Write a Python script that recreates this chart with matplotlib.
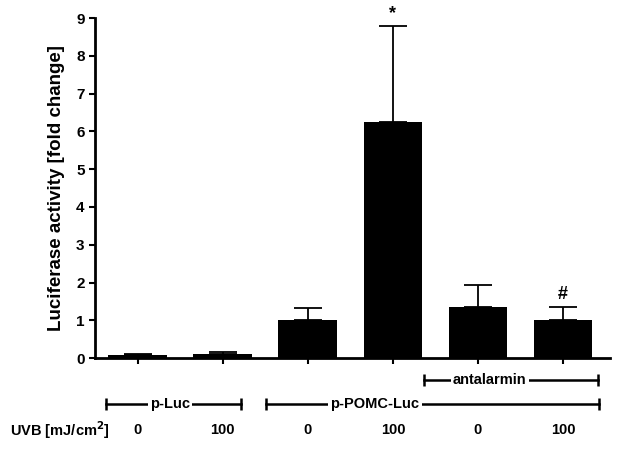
import matplotlib.pyplot as plt

plt.rcParams['font.family'] = ['Liberation Sans', 'DejaVu Sans']
plt.rcParams['font.weight'] = 'bold'

uvb = ['0', '100', '0', '100', '0', '100']
values = [0.09, 0.12, 1.0, 6.25, 1.35, 1.0]
errors = [0.03, 0.04, 0.33, 2.53, 0.58, 0.35]
marks = ['', '', '', '*', '', '#']

fig = plt.figure(figsize=(6.23, 4.5), dpi=100)
ax = fig.add_axes([0.1525, 0.204, 0.8265, 0.756])

x = list(range(len(values)))
ax.bar(x, values, width=0.69, color='black')
ax.errorbar(x, values, yerr=[[0] * len(errors), errors], fmt='none',
            ecolor='black', elinewidth=1.3, capsize=10, capthick=1.3)
for xi, v, e, m in zip(x, values, errors, marks):
    if m:
        ax.text(xi, v + e + 0.12, m, ha='center', va='bottom', fontsize=13, fontweight='bold')

ax.set_xlim(-0.5, 5.55)
ax.set_ylim(0, 9)
ax.set_yticks(range(10))
ax.set_xticks(x)
ax.set_xticklabels([])
ax.tick_params(axis='both', direction='out', width=1.5, length=4, labelsize=11)
for s in ['top', 'right']:
    ax.spines[s].set_visible(False)
for s in ['left', 'bottom']:
    ax.spines[s].set_linewidth(2)
ax.set_ylabel('Luciferase activity [fold change]', fontsize=13.5, fontweight='bold', labelpad=8)


def bracket(x0, x1, y, label, xt):
    ax.plot([x0, x1], [y, y], color='black', lw=1.8, clip_on=False,
            marker='|', markersize=8, markeredgewidth=1.8)
    ax.text(xt, y, label, ha='center', va='center',
            fontsize=10.5, fontweight='bold',
            bbox=dict(facecolor='white', edgecolor='none', pad=1.5), clip_on=False)


bracket(3.36, 5.41, -0.58, 'antalarmin', 4.14)
bracket(-0.376, 1.22, -1.22, 'p-Luc', 0.38)
bracket(1.51, 5.42, -1.22, 'p-POMC-Luc', 2.79)

ax.text(-1.5, -1.9, 'UVB [mJ/cm$^\\mathbf{2}$]', ha='left', va='center', fontsize=10.5,
        fontweight='bold', clip_on=False)
for xi, lab in zip(x, uvb):
    ax.text(xi, -1.9, lab, ha='center', va='center', fontsize=10.5, fontweight='bold', clip_on=False)

fig.savefig('out.png', dpi=100)
